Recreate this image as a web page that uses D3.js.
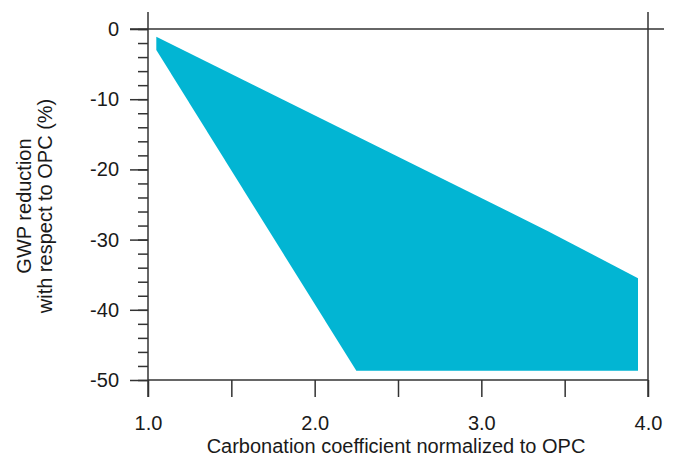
<!DOCTYPE html>
<html>
<head>
<meta charset="utf-8">
<script src="https://cdn.jsdelivr.net/npm/d3@7"></script>
<style>
  body { margin: 0; background: #fff; }
  text { font-family: "Liberation Sans", Arial, Helvetica, sans-serif; fill: #1a1a1a; }
</style>
</head>
<body>
<div id="chart"></div>
<script>
const width = 680,
  height = 464;

// outline of the shaded band (x = carbonation coefficient, y = GWP reduction %)
const bandX = [1.05, 3.4, 3.94, 3.94, 2.25, 1.05];
const bandY = [-1.1, -28.8, -35.5, -48.7, -48.7, -3.0];

const xMajor = [1.0, 2.0, 3.0, 4.0];
const xTicks = [1.0, 1.5, 2.0, 2.5, 3.0, 3.5, 4.0];
const yMajor = [0, -10, -20, -30, -40, -50];
const yMinor = d3.range(0, -51, -2);

const xTitle = "Carbonation coefficient normalized to OPC";
const yTitle = ["GWP reduction", "with respect to OPC (%)"];

const x = d3.scaleLinear().domain([1, 4]).range([148, 648]);
const y = d3.scaleLinear().domain([0, -50]).range([29, 380]);

const svg = d3
  .select("#chart")
  .append("svg")
  .attr("width", width)
  .attr("height", height);

// band
const pts = bandX.map((d, i) => [d, bandY[i]]);
svg
  .append("path")
  .attr("d", d3.line().x((d) => x(d[0])).y((d) => y(d[1]))(pts) + "Z")
  .attr("fill", "#02b5d3");

const axisColor = "#333";

// minor y ticks
svg
  .append("g")
  .attr("transform", "translate(148,0)")
  .call(d3.axisLeft(y).tickValues(yMinor).tickSize(10).tickFormat(""))
  .call((g) => g.select(".domain").remove());

// major y ticks (plain hyphen for negatives)
svg
  .append("g")
  .attr("transform", "translate(148,0)")
  .call(d3.axisLeft(y).tickValues(yMajor).tickSize(18).tickPadding(11).tickFormat((d) => String(d)))
  .call((g) => g.select(".domain").remove())
  .call((g) => g.selectAll("text").attr("font-size", 20).attr("font-family", null).attr("fill", "#1a1a1a"));

// x ticks
svg
  .append("g")
  .attr("transform", "translate(0,380)")
  .call(
    d3.axisBottom(x)
      .tickValues(xTicks)
      .tickSize(17)
      .tickPadding(0)
      .tickFormat((d) => (xMajor.includes(d) ? d3.format(".1f")(d) : ""))
  )
  .call((g) => g.select(".domain").remove())
  .call((g) => g.selectAll("text").attr("font-size", 20).attr("font-family", null).attr("fill", "#1a1a1a").attr("dy", null).attr("y", 50));

svg.selectAll(".tick line").attr("stroke", axisColor).attr("stroke-width", 1.5);

// frame lines
const frame = [
  [148, 12, 148, 397],
  [648, 12, 648, 397],
  [148, 380, 648, 380],
  [130, 29, 664, 29],
];
svg
  .selectAll("line.frame")
  .data(frame)
  .enter()
  .append("line")
  .attr("class", "frame")
  .attr("x1", (d) => d[0])
  .attr("y1", (d) => d[1])
  .attr("x2", (d) => d[2])
  .attr("y2", (d) => d[3])
  .attr("stroke", axisColor)
  .attr("stroke-width", 1.5);

// axis titles
svg
  .append("text")
  .attr("x", 396)
  .attr("y", 453)
  .attr("text-anchor", "middle")
  .attr("font-size", 20)
  .text(xTitle);

svg
  .selectAll("text.ytitle")
  .data(yTitle)
  .enter()
  .append("text")
  .attr("class", "ytitle")
  .attr("transform", (d, i) => "translate(" + (31 + i * 21) + ",206) rotate(-90)")
  .attr("text-anchor", "middle")
  .attr("font-size", 20)
  .text((d) => d);
</script>
</body>
</html>
